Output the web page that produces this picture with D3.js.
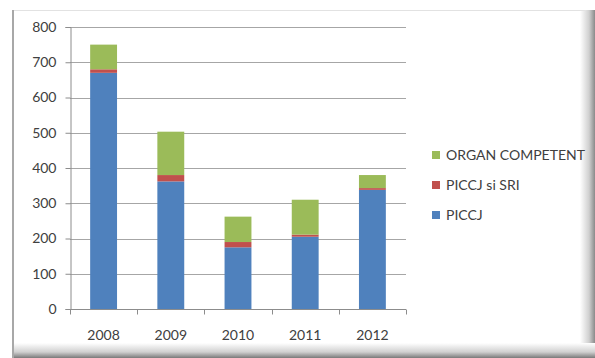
<!DOCTYPE html>
<html>
<head>
<meta charset="utf-8">
<script src="https://cdn.jsdelivr.net/npm/d3@7"></script>
<style>
  html, body { margin: 0; padding: 0; background: #fff; }
  svg { display: block; }
  text { font-family: "Lato", "Open Sans", sans-serif; fill: #404040; }
</style>
</head>
<body>
<svg id="chart" width="595" height="358"></svg>
<script>
// Years on the category axis
const years = ["2008", "2009", "2010", "2011", "2012"];
// Stacked series, bottom to top
const piccj = [670, 362, 175, 205, 338];
const piccjSri = [10, 18, 15, 6, 5];
const organCompetent = [70, 123, 72, 99, 37];
const seriesNames = ["PICCJ", "PICCJ si SRI", "ORGAN COMPETENT"];
const seriesColors = ["#4f81bd", "#c0504d", "#9bbb59"];
const yTicks = [0, 100, 200, 300, 400, 500, 600, 700, 800];

(function draw() {
  const svg = d3.select("#chart");
  const W = 595, H = 358;

  // Frame with soft drop shadow on the right and bottom
  const defs = svg.append("defs");
  const gR = defs.append("linearGradient").attr("id", "shR").attr("x1", 0).attr("x2", 1).attr("y1", 0).attr("y2", 0);
  gR.append("stop").attr("offset", "0%").attr("stop-color", "#ffffff");
  gR.append("stop").attr("offset", "60%").attr("stop-color", "#d0d0d0");
  gR.append("stop").attr("offset", "100%").attr("stop-color", "#8a8a8a");
  const gB = defs.append("linearGradient").attr("id", "shB").attr("x1", 0).attr("x2", 0).attr("y1", 0).attr("y2", 1);
  gB.append("stop").attr("offset", "0%").attr("stop-color", "#ffffff");
  gB.append("stop").attr("offset", "60%").attr("stop-color", "#d0d0d0");
  gB.append("stop").attr("offset", "100%").attr("stop-color", "#7a7a7a");

  svg.append("rect").attr("x", 0).attr("y", 0).attr("width", W).attr("height", H).attr("fill", "#fff");
  svg.append("rect").attr("x", 580).attr("y", 10).attr("width", 15).attr("height", H - 10).attr("fill", "url(#shR)");
  svg.append("rect").attr("x", 12).attr("y", 343).attr("width", W - 12).attr("height", 15).attr("fill", "url(#shB)");
  svg.append("line").attr("x1", 12).attr("x2", 586).attr("y1", 10.5).attr("y2", 10.5).attr("stroke", "#e2e2e2");
  svg.append("rect").attr("x", 12).attr("y", 10).attr("width", 2).attr("height", H - 10).attr("fill", "#a8a8a8");

  // Plot area
  const pl = 70, pr = 406, pt = 27, pb = 309;

  const x = d3.scaleBand().domain(years).range([pl, pr]).paddingInner(0.6).paddingOuter(0.3);
  const xStep = d3.scaleBand().domain(years).range([pl, pr]).padding(0);
  const y = d3.scaleLinear().domain([0, 800]).range([pb, pt]);

  // Horizontal gridlines
  svg.append("g").selectAll("line").data(yTicks.filter(d => d > 0)).join("line")
    .attr("x1", pl).attr("x2", pr)
    .attr("y1", d => Math.round(y(d)) + 0.5).attr("y2", d => Math.round(y(d)) + 0.5)
    .attr("stroke", "#a6a6a6").attr("stroke-width", 1);

  // Stacked bars
  const rows = years.map((yr, i) => ({ year: yr, s0: piccj[i], s1: piccjSri[i], s2: organCompetent[i] }));
  const stack = d3.stack().keys(["s0", "s1", "s2"])(rows);
  svg.append("g").selectAll("g").data(stack).join("g")
    .attr("fill", (d, i) => seriesColors[i])
    .selectAll("rect").data(d => d).join("rect")
    .attr("x", d => x(d.data.year))
    .attr("width", x.bandwidth())
    .attr("y", d => y(d[1]))
    .attr("height", d => y(d[0]) - y(d[1]));

  // Y axis
  const yAxis = svg.append("g").attr("transform", `translate(${pl + 0.5},0)`)
    .call(d3.axisLeft(y).tickValues(yTicks).tickSize(5).tickPadding(9));
  yAxis.select(".domain").attr("stroke", "#8c8c8c");
  yAxis.selectAll(".tick line").attr("stroke", "#8c8c8c");
  yAxis.selectAll(".tick text").attr("font-size", 14).attr("fill", "#404040")
    .style("font-family", "Lato, 'Open Sans', sans-serif");

  // X axis with ticks at category boundaries
  const xAxisG = svg.append("g").attr("transform", `translate(0,${pb + 0.5})`);
  xAxisG.append("line").attr("x1", pl).attr("x2", pr).attr("stroke", "#8c8c8c");
  xAxisG.selectAll("line.tk").data(years.concat(["end"])).join("line").attr("class", "tk")
    .attr("x1", (d, i) => Math.round(i < years.length ? xStep(d) : pr) + 0.5)
    .attr("x2", (d, i) => Math.round(i < years.length ? xStep(d) : pr) + 0.5)
    .attr("y1", 0).attr("y2", 5).attr("stroke", "#8c8c8c");
  xAxisG.selectAll("text").data(years).join("text")
    .attr("x", d => x(d) + x.bandwidth() / 2)
    .attr("y", 30)
    .attr("text-anchor", "middle")
    .attr("font-size", 14)
    .text(d => d);

  // Legend, top series first
  const legendOrder = [2, 1, 0];
  const legend = svg.append("g");
  legendOrder.forEach((si, k) => {
    const ly = 155 + k * 30;
    legend.append("rect").attr("x", 432).attr("y", ly - 4).attr("width", 8).attr("height", 8).attr("fill", seriesColors[si]);
    legend.append("text").attr("x", 446).attr("y", ly).attr("dy", "0.35em")
      .attr("font-size", 14).text(seriesNames[si]);
  });
})();
</script>
</body>
</html>
